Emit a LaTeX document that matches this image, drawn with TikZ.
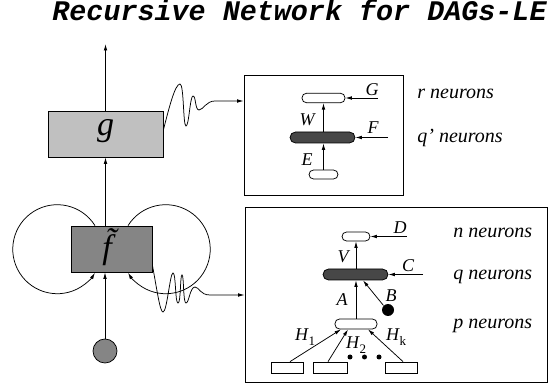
\documentclass[tikz,border=0pt]{standalone}
\usepackage{fontspec}
\setmainfont{Liberation Serif}[ItalicFont={Liberation Serif Italic},BoldFont={Liberation Serif Bold}]
\setmonofont{Liberation Mono}[BoldItalicFont={Liberation Mono Bold Italic}]
\usetikzlibrary{arrows.meta,calc}
\definecolor{lightbox}{HTML}{C0C0C0}
\definecolor{darkbox}{HTML}{858585}
\definecolor{pilldark}{HTML}{474747}
\begin{document}
\begin{tikzpicture}[x=1pt,y=-1pt,line width=0.75pt,
  >={Latex[length=6.5pt,width=3.6pt]},
  gbox/.style={draw,fill=lightbox,minimum width=115pt,minimum height=46pt,inner sep=0pt},
  fbox/.style={draw,fill=darkbox,minimum width=81pt,minimum height=46pt,inner sep=0pt},
  panel/.style={draw,line width=0.9pt,inner sep=0pt},
  wpill/.style={draw,fill=white,rounded corners=4.5pt,inner sep=0pt,minimum height=9.5pt},
  dpill/.style={draw,fill=pilldark,rounded corners=5.5pt,inner sep=0pt,minimum height=11pt,minimum width=65pt},
  inrect/.style={draw,fill=white,inner sep=0pt,minimum width=32pt,minimum height=11pt},
  dot/.style={circle,fill=black,inner sep=0pt,minimum size=5pt},
  lbl/.style={font=\fontsize{18}{20}\selectfont\itshape,inner sep=0pt},
  nlbl/.style={font=\fontsize{20}{22}\selectfont\itshape,inner sep=0pt,anchor=west},
  big/.style={font=\fontsize{34}{36}\selectfont\itshape}]
\useasboundingbox (0,0) rectangle (549,387);

% title
\node[anchor=base east,inner sep=0pt,font=\fontsize{28.4}{30}\selectfont\ttfamily\bfseries\itshape] (title) at (547,21) {Recursive Network for DAGs-LE};

% main column
\node[gbox] (g) at (105.5,134) {};
\node[big] (glbl) at (105.5,131) {g};
\node[fbox] (f) at (111.5,249) {};
\node[big] (flbl) at (107,247) {\~{f}};
\node[circle,draw,fill=darkbox,minimum size=24pt,inner sep=0pt] (in) at (105,351) {};
\coordinate (out) at (105.5,44);

\draw[->] (g.north) -- (out);
\draw[->] (in.north) -- (in.north |- f.south);
\draw[->] (g.south |- f.north) -- (g.south);

% self loops
\draw[->] ([xshift=-16.5pt]f.north) arc[start angle=-32,end angle=-328,radius=44.5];
\draw[->] ([xshift=16.5pt]f.north) arc[start angle=212,end angle=508,radius=44.5];

% panels
\node[panel,minimum width=159pt,minimum height=120pt] (tb) at (323.5,135) {};
\node[panel,minimum width=302pt,minimum height=175pt] (bb) at (396,294.5) {};

% wavy connectors
\coordinate (t1) at (215,101);
\coordinate (t2) at (210,295);
\draw[->] ([yshift=4pt]g.east) .. controls (169,108) and (175,84) .. (180,84)
  .. controls (184,84) and (183,126) .. (186,126)
  .. controls (189,126) and (190,96) .. (193,96)
  .. controls (196,96) and (195,110) .. (199,110)
  .. controls (203,110) and (206,101) .. (t1) -- (tb.west |- t1);
\draw[->] ([yshift=-16pt]f.east) .. controls (157,290) and (160,312) .. (163,312)
  .. controls (167,312) and (170,273) .. (173,273)
  .. controls (176,273) and (175,303) .. (178,303)
  .. controls (181,303) and (180,275) .. (182,275)
  .. controls (184,275) and (183,303) .. (186,303)
  .. controls (189,303) and (190,287) .. (195,287)
  .. controls (199,287) and (200,295) .. (t2) -- (bb.west |- t2);

% top panel contents
\node[wpill,minimum width=43pt] (rp) at (323.5,98) {};
\node[dpill] (qp) at (322.5,137.5) {};
\node[wpill,minimum width=29pt,minimum height=9pt] (ep) at (323.5,174.5) {};
\coordinate (gsrc) at (378,98);
\coordinate (fsrc) at (388,137.5);
\draw[->] (gsrc) -- (rp.east);
\draw[->] (fsrc) -- (qp.east);
\draw[->] (qp.north -| rp.south) -- (rp.south);
\draw[->] (ep.north) -- (ep.north |- qp.south);
\node[lbl] (lG) at (372,90) {G};
\node[lbl] (lF) at (373,128) {F};
\node[lbl] (lW) at (307,120) {W};
\node[lbl] (lE) at (307,160) {E};
\node[nlbl] (rn) at (417,94) {r neurons};
\node[nlbl] (qqn) at (417,138) {q’ neurons};

% bottom panel contents
\node[wpill,minimum width=28pt,minimum height=9pt] (np) at (356,236.5) {};
\node[dpill] (qb) at (355.5,274.5) {};
\node[wpill,minimum width=42pt,minimum height=10pt] (pp) at (356,324) {};
\node[circle,fill=black,inner sep=0pt,minimum size=12pt] (bc) at (388,310) {};
\coordinate (dsrc) at (407,236.5);
\coordinate (csrc) at (423,274.5);
\draw[->] (dsrc) -- (np.east);
\draw[->] (csrc) -- (qb.east);
\draw[->] (qb.north -| np.south) -- (np.south);
\draw[->] (pp.north) -- (pp.north |- qb.south);
\draw[->] (bc.north west) -- ([xshift=7.5pt]qb.south);
\node[lbl] (lD) at (400,228) {D};
\node[lbl] (lC) at (408,266) {C};
\node[lbl] (lV) at (343,257) {V};
\node[lbl] (lA) at (342,300) {A};
\node[lbl] (lB) at (391,296) {B};

\node[inrect] (r1) at (287,367.5) {};
\node[inrect,minimum width=34pt] (r2) at (330,367.5) {};
\node[inrect] (r3) at (401,367.5) {};
\node[dot] (d1) at (350,357) {};
\node[dot] (d2) at (364.5,357) {};
\node[dot] (d3) at (379,357) {};
\draw[->] ([xshift=3pt]r1.north) -- ([xshift=-15pt]pp.south);
\draw[->] ([xshift=-2pt]r2.north) -- ([xshift=-8pt]pp.south);
\draw[->] ([xshift=2pt]r3.north) -- ([xshift=12pt]pp.south);
\node[lbl] (lH1) at (305,337) {H\kern0.5pt\raisebox{-5pt}{\fontsize{13}{13}\selectfont\upshape 1}};
\node[lbl] (lH2) at (356,345) {H\kern0.5pt\raisebox{-5pt}{\fontsize{13}{13}\selectfont\upshape 2}};
\node[lbl] (lHk) at (396,337) {H\kern0.5pt\raisebox{-5pt}{\fontsize{13}{13}\selectfont\upshape k}};
\node[nlbl] (nn) at (453,233) {n neurons};
\node[nlbl] (qn) at (453,277) {q neurons};
\node[nlbl] (pn) at (453,326) {p neurons};
\end{tikzpicture}
\end{document}
